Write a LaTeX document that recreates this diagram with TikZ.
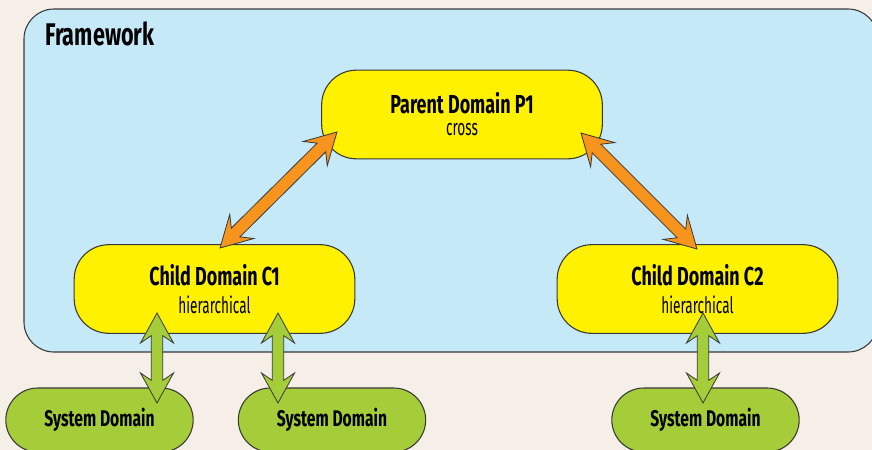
\documentclass[tikz,border=0pt]{standalone}
\usepackage{fontspec}
\setmainfont{Fira Sans}
\newfontfamily\titlef{Fira Sans}[FakeStretch=0.69]
\newfontfamily\subf{Fira Sans}[FakeStretch=0.6]
\usetikzlibrary{calc}
\definecolor{bgcream}{HTML}{F6EFE7}
\definecolor{fwblue}{HTML}{C6E9F8}
\definecolor{domyellow}{HTML}{FFF100}
\definecolor{sysgreen}{HTML}{A5CD39}
\definecolor{arrorange}{HTML}{F7941E}
\definecolor{outl}{HTML}{383838}
\tikzset{
  dombox/.style={draw=outl, line width=0.8pt, fill=domyellow, rounded corners=26pt,
    minimum width=210.5pt, minimum height=66.5pt, align=center, inner sep=0pt,
    font=\fontsize{10}{12}\selectfont},
  sysbox/.style={draw=outl, line width=0.8pt, fill=sysgreen, rounded corners=24pt,
    minimum width=140.5pt, minimum height=48pt, align=center, inner sep=0pt,
    font=\titlef\bfseries\fontsize{17}{19}\selectfont},
  arrline/.style={draw=outl, line width=0.6pt, line join=miter},
}
% #1 from, #2 to, #3 fill, #4 half shaft, #5 half head, #6 barb distance, #7 join distance
\newcommand\fatarr[7]{%
  \draw[arrline, fill=#3] (#1)
    -- ($(#1)!#6!(#2)!#5!90:(#2)$)
    -- ($(#1)!#7!(#2)!#4!90:(#2)$)
    -- ($(#2)!#7!(#1)!#4!-90:(#1)$)
    -- ($(#2)!#6!(#1)!#5!-90:(#1)$)
    -- (#2)
    -- ($(#2)!#6!(#1)!#5!90:(#1)$)
    -- ($(#2)!#7!(#1)!#4!90:(#1)$)
    -- ($(#1)!#7!(#2)!#4!-90:(#2)$)
    -- ($(#1)!#6!(#2)!#5!-90:(#2)$)
    -- cycle;}
\newcommand\ttl[1]{{\titlef\bfseries\fontsize{19.5}{21}\selectfont #1}}
\newcommand\sub[1]{{\subf\fontsize{17}{19}\selectfont #1}}
\newcommand\sysl{\raisebox{-2pt}{System Domain}}
\begin{document}
\begin{tikzpicture}[x=0.75pt, y=-0.75pt]
  \useasboundingbox (0,0) rectangle (872,450);
  \fill[bgcream] (0,0) rectangle (872,450);
  \clip (0,0) rectangle (872,450);
  % framework
  \draw[draw=outl, line width=0.8pt, fill=fwblue, rounded corners=22.5pt] (24,9) rectangle (878,352);
  \node[anchor=base west, inner sep=0pt, font=\titlef\bfseries\fontsize{23.5}{26}\selectfont] (fw) at (45,45) {Framework};
  % domains
  \node[dombox] (p1) at (462,114.5) {\ttl{Parent Domain P1}\\[4.5pt]\sub{cross}};
  \node[dombox] (c1) at (214.5,289) {\ttl{Child Domain C1}\\[6.5pt]\sub{hierarchical}};
  \node[dombox] (c2) at (697.5,289) {\ttl{Child Domain C2}\\[6.5pt]\sub{hierarchical}};
  \node[sysbox] (s1) at (99.5,420) {\sysl};
  \node[sysbox] (s2) at (332,420) {\sysl};
  \node[sysbox] (s3) at (705.5,420) {\sysl};
  % arrow end points
  \coordinate (p1l) at (337,132);
  \coordinate (c1t) at (220,248);
  \coordinate (p1r) at (581,133);
  \coordinate (c2t) at (697,249);
  \coordinate (c1a) at (157,313);
  \coordinate (s1t) at (157,403);
  \coordinate (c1b) at (278,313);
  \coordinate (s2t) at (278,403);
  \coordinate (c2b) at (703,313);
  \coordinate (s3t) at (703,403);
  % arrows
  \fatarr{p1l}{c1t}{arrorange}{4.6pt}{12.8pt}{23pt}{16.5pt}
  \fatarr{p1r}{c2t}{arrorange}{4.6pt}{12.8pt}{23pt}{16.5pt}
  \fatarr{c1a}{s1t}{sysgreen}{4.3pt}{12.4pt}{22.5pt}{17pt}
  \fatarr{c1b}{s2t}{sysgreen}{4.3pt}{12.4pt}{22.5pt}{17pt}
  \fatarr{c2b}{s3t}{sysgreen}{4.3pt}{12.4pt}{22.5pt}{17pt}
\end{tikzpicture}
\end{document}
